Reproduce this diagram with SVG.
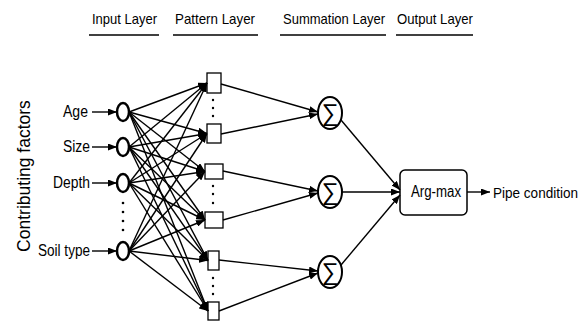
<svg xmlns="http://www.w3.org/2000/svg" width="588" height="322" viewBox="0 0 588 322">
<defs>
<marker id="ah" markerUnits="userSpaceOnUse" markerWidth="9" markerHeight="7" refX="9" refY="3.5" orient="auto">
<path d="M0,0 L9,3.5 L0,7 z" fill="#000"/>
</marker>
</defs>
<style>
text{font-family:"Liberation Sans",Arial,sans-serif;fill:#000}
.hdr{font-size:15px}
.lbl{font-size:16px}
.ul{stroke:#000;stroke-width:1.6}
.in{fill:#fff;stroke:#000;stroke-width:2.5}
.pt{fill:#fff;stroke:#000;stroke-width:1.3}
.sm{fill:#fff;stroke:#000;stroke-width:2}
.c line{stroke:#000;stroke-width:1.4;marker-end:url(#ah)}
.dot{fill:#000}
.sig{font-family:"Liberation Sans",sans-serif;font-size:24px}
</style>
<rect width="588" height="322" fill="#fff"/>
<g id="headers">
<text class="hdr" x="92" y="24" textLength="65" lengthAdjust="spacingAndGlyphs">Input Layer</text>
<line class="ul" x1="89" y1="35" x2="159" y2="35"/>
<text class="hdr" x="175" y="24" textLength="80" lengthAdjust="spacingAndGlyphs">Pattern Layer</text>
<line class="ul" x1="173" y1="35" x2="258" y2="35"/>
<text class="hdr" x="283" y="24" textLength="102" lengthAdjust="spacingAndGlyphs">Summation Layer</text>
<line class="ul" x1="280" y1="35" x2="386" y2="35"/>
<text class="hdr" x="397" y="24" textLength="76" lengthAdjust="spacingAndGlyphs">Output Layer</text>
<line class="ul" x1="396" y1="35" x2="473" y2="35"/>
</g>
<text x="30" y="176" font-size="17.5" text-anchor="middle" transform="rotate(-90 30 176)">Contributing factors</text>
<g id="in-age"><text class="lbl" x="63" y="117" textLength="25" lengthAdjust="spacingAndGlyphs">Age</text><ellipse class="in" cx="123" cy="112" rx="6" ry="9"/></g>
<g id="in-size"><text class="lbl" x="63" y="152" textLength="27" lengthAdjust="spacingAndGlyphs">Size</text><ellipse class="in" cx="123" cy="147" rx="6" ry="9"/></g>
<g id="in-depth"><text class="lbl" x="53" y="188" textLength="37" lengthAdjust="spacingAndGlyphs">Depth</text><ellipse class="in" cx="123" cy="183" rx="6" ry="9"/></g>
<g id="in-soil"><text class="lbl" x="38" y="256" textLength="52" lengthAdjust="spacingAndGlyphs">Soil type</text><ellipse class="in" cx="123" cy="251" rx="6" ry="9"/></g>
<g id="in-dots"><circle class="dot" cx="123" cy="203" r="1.3"/><circle class="dot" cx="123" cy="212" r="1.3"/><circle class="dot" cx="123" cy="221" r="1.3"/><circle class="dot" cx="123" cy="230" r="1.3"/></g>
<g id="p1"><rect class="pt" x="207" y="73" width="14" height="20"/></g>
<g id="p2"><rect class="pt" x="207" y="124" width="14" height="19"/></g>
<g id="p3"><rect class="pt" x="205" y="164" width="18" height="15"/></g>
<g id="p4"><rect class="pt" x="205" y="212" width="18" height="16"/></g>
<g id="p5"><rect class="pt" x="208" y="251" width="11" height="19"/></g>
<g id="p6"><rect class="pt" x="208" y="302" width="11" height="18"/></g>
<g id="p-dots">
<circle class="dot" cx="213" cy="100" r="1.2"/><circle class="dot" cx="213" cy="108" r="1.2"/><circle class="dot" cx="213" cy="116" r="1.2"/>
<circle class="dot" cx="213" cy="186" r="1.2"/><circle class="dot" cx="213" cy="194" r="1.2"/><circle class="dot" cx="213" cy="203" r="1.2"/>
<circle class="dot" cx="213" cy="278" r="1.2"/><circle class="dot" cx="213" cy="286" r="1.2"/><circle class="dot" cx="213" cy="294" r="1.2"/>
</g>
<g id="s1"><ellipse class="sm" cx="330" cy="113" rx="12" ry="16"/><text class="sig" x="330" y="121" text-anchor="middle">∑</text></g>
<g id="s2"><ellipse class="sm" cx="330" cy="192" rx="12" ry="16"/><text class="sig" x="330" y="200" text-anchor="middle">∑</text></g>
<g id="s3"><ellipse class="sm" cx="330" cy="272" rx="12" ry="16"/><text class="sig" x="330" y="280" text-anchor="middle">∑</text></g>
<g id="argmax"><rect x="400" y="170" width="67" height="45" rx="5" fill="#fff" stroke="#000" stroke-width="1.5"/><text x="411" y="197" font-size="16" textLength="50" lengthAdjust="spacingAndGlyphs">Arg-max</text></g>
<g id="out"><text x="493" y="198" font-size="14" textLength="85" lengthAdjust="spacingAndGlyphs">Pipe condition</text></g>
<g id="connectors" class="c">
<line x1="92" y1="112" x2="117" y2="112"/>
<line x1="92" y1="147" x2="117" y2="147"/>
<line x1="92" y1="183" x2="117" y2="183"/>
<line x1="92" y1="251" x2="117" y2="251"/>
<line x1="129" y1="112" x2="207" y2="83"/>
<line x1="129" y1="112" x2="207" y2="133.5"/>
<line x1="129" y1="112" x2="205" y2="171.5"/>
<line x1="129" y1="112" x2="205" y2="220"/>
<line x1="129" y1="112" x2="208" y2="260.5"/>
<line x1="129" y1="112" x2="208" y2="311"/>
<line x1="129" y1="147" x2="207" y2="83"/>
<line x1="129" y1="147" x2="207" y2="133.5"/>
<line x1="129" y1="147" x2="205" y2="171.5"/>
<line x1="129" y1="147" x2="205" y2="220"/>
<line x1="129" y1="147" x2="208" y2="260.5"/>
<line x1="129" y1="147" x2="208" y2="311"/>
<line x1="129" y1="183" x2="207" y2="83"/>
<line x1="129" y1="183" x2="207" y2="133.5"/>
<line x1="129" y1="183" x2="205" y2="171.5"/>
<line x1="129" y1="183" x2="205" y2="220"/>
<line x1="129" y1="183" x2="208" y2="260.5"/>
<line x1="129" y1="183" x2="208" y2="311"/>
<line x1="129" y1="251" x2="207" y2="83"/>
<line x1="129" y1="251" x2="207" y2="133.5"/>
<line x1="129" y1="251" x2="205" y2="171.5"/>
<line x1="129" y1="251" x2="205" y2="220"/>
<line x1="129" y1="251" x2="208" y2="260.5"/>
<line x1="129" y1="251" x2="208" y2="311"/>
<line x1="221" y1="84" x2="318" y2="112"/>
<line x1="221" y1="134" x2="318" y2="114"/>
<line x1="223" y1="171" x2="318" y2="191"/>
<line x1="223" y1="220" x2="318" y2="193"/>
<line x1="219" y1="260" x2="318" y2="271"/>
<line x1="219" y1="311" x2="318" y2="273"/>
<line x1="341" y1="120" x2="400" y2="190"/>
<line x1="342" y1="192" x2="400" y2="192"/>
<line x1="341" y1="265" x2="400" y2="195"/>
<line x1="467" y1="192" x2="490" y2="192"/>
</g>
</svg>
